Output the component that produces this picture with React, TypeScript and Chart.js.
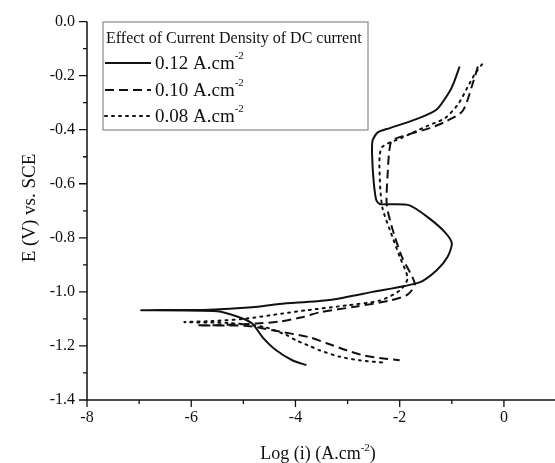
import React, { useEffect, useRef } from 'react';
import { Chart, registerables } from 'chart.js';

Chart.register(...registerables);

const xTicks = [-8, -6, -4, -2, 0];
const xMinorTicks = [-7, -5, -3, -1];
const yTicks = [0, -0.2, -0.4, -0.6, -0.8, -1.0, -1.2, -1.4];
const yMinorTicks = [-0.1, -0.3, -0.5, -0.7, -0.9, -1.1, -1.3];

const legendTitle = 'Effect of Current Density of DC current';
const seriesLabels = ['0.12 A.cm', '0.10 A.cm', '0.08 A.cm'];
const unitSup = '-2';
const xTitle = 'Log (i) (A.cm';
const yTitle = 'E (V) vs. SCE';

// 0.12 A.cm-2 (solid)
const logI012 = [
  -0.85, -0.95, -1.04, -1.29, -1.67, -2.19, -2.42, -2.52, -2.53, -2.5, -2.45, -2.38, -2.23,
  -1.81, -1.42, -1.13, -1.0, -1.08, -1.29, -1.62, -2.52, -3.35, -4.31, -4.83, -5.65, -6.96,
  -5.5, -5.08, -4.83, -4.63, -4.37, -4.06, -3.79,
];
const e012 = [
  -0.166, -0.22, -0.258, -0.325, -0.36, -0.394, -0.41, -0.44, -0.49, -0.59, -0.66, -0.675, -0.676,
  -0.68, -0.73, -0.78, -0.82, -0.87, -0.92, -0.965, -1.0, -1.03, -1.045, -1.057, -1.066, -1.068,
  -1.072, -1.094, -1.117, -1.168, -1.216, -1.253, -1.271,
];

// 0.10 A.cm-2 (dashed)
const logI010 = [
  -0.5, -0.6, -0.79, -1.1, -1.42, -1.87, -2.15, -2.2, -2.23, -2.25, -2.15, -1.96, -1.71,
  -1.85, -2.19, -2.83, -3.54, -3.87, -4.31, -4.75, -5.3, -5.88,
  -5.0, -4.75, -4.44, -3.73, -3.4, -3.02, -2.71, -2.38, -2.0,
];
const e010 = [
  -0.166, -0.23, -0.33, -0.368, -0.394, -0.42, -0.44, -0.48, -0.56, -0.675, -0.76, -0.87, -0.97,
  -1.01, -1.032, -1.054, -1.076, -1.094, -1.11, -1.117, -1.122, -1.124,
  -1.125, -1.13, -1.142, -1.168, -1.19, -1.216, -1.234, -1.245, -1.253,
];

// 0.08 A.cm-2 (dotted)
const logI008 = [
  -0.42, -0.56, -0.69, -0.88, -1.13, -1.48, -1.96, -2.35, -2.38, -2.33, -2.19, -2.0, -1.85,
  -2.0, -2.38, -3.02, -3.79, -4.25, -5.0, -5.6, -6.13,
  -5.3, -4.6, -4.17, -3.98, -3.73, -3.54, -3.15, -2.77, -2.3,
];
const e008 = [
  -0.158, -0.195, -0.24, -0.306, -0.357, -0.387, -0.43, -0.468, -0.59, -0.69, -0.77, -0.87, -0.95,
  -0.995, -1.032, -1.05, -1.068, -1.08, -1.1, -1.108, -1.112,
  -1.115, -1.13, -1.16, -1.18, -1.2, -1.216, -1.24, -1.253, -1.262,
];

const FONT = '"Liberation Serif", "Times New Roman", serif';
const INK = '#111';

const toPoints = (xs: number[], ys: number[]) => xs.map((x, i) => ({ x, y: ys[i] }));

const dashes: number[][] = [[], [9, 5], [2, 5]];

const overlayPlugin = {
  id: 'overlay',
  afterDraw(chart: any) {
    const ctx: CanvasRenderingContext2D = chart.ctx;
    const xs = chart.scales.x;
    const ys = chart.scales.y;
    const { left, right, top, bottom } = chart.chartArea;
    ctx.save();
    ctx.strokeStyle = INK;
    ctx.lineWidth = 1.5;
    ctx.setLineDash([]);
    // axes
    ctx.beginPath();
    ctx.moveTo(left, top);
    ctx.lineTo(left, bottom);
    ctx.lineTo(right, bottom);
    ctx.stroke();
    // y ticks
    ctx.lineWidth = 1.3;
    ctx.beginPath();
    yTicks.forEach((v) => {
      const p = ys.getPixelForValue(v);
      ctx.moveTo(left - 8, p);
      ctx.lineTo(left, p);
    });
    yMinorTicks.forEach((v) => {
      const p = ys.getPixelForValue(v);
      ctx.moveTo(left - 4, p);
      ctx.lineTo(left, p);
    });
    xTicks.forEach((v) => {
      const p = xs.getPixelForValue(v);
      ctx.moveTo(p, bottom);
      ctx.lineTo(p, bottom + 7);
    });
    xMinorTicks.forEach((v) => {
      const p = xs.getPixelForValue(v);
      ctx.moveTo(p, bottom);
      ctx.lineTo(p, bottom + 4);
    });
    ctx.stroke();

    ctx.fillStyle = INK;
    // x title with superscript
    ctx.font = `18px ${FONT}`;
    const wMain = ctx.measureText(xTitle).width;
    ctx.font = `11px ${FONT}`;
    const wSup = ctx.measureText(unitSup).width;
    ctx.font = `18px ${FONT}`;
    const wClose = ctx.measureText(')').width;
    const total = wMain + wSup + wClose;
    const cx = 318;
    let sx = cx - total / 2;
    const base = 459;
    ctx.textBaseline = 'alphabetic';
    ctx.textAlign = 'left';
    ctx.fillText(xTitle, sx, base);
    sx += wMain;
    ctx.font = `11px ${FONT}`;
    ctx.fillText(unitSup, sx, base - 8);
    sx += wSup;
    ctx.font = `18px ${FONT}`;
    ctx.fillText(')', sx, base);

    // y title
    ctx.save();
    ctx.translate(35, 208);
    ctx.rotate(-Math.PI / 2);
    ctx.font = `19px ${FONT}`;
    ctx.textAlign = 'center';
    ctx.fillText(yTitle, 0, 0);
    ctx.restore();

    // legend
    const bx = 103, by = 22, bw = 265, bh = 108;
    ctx.fillStyle = '#fff';
    ctx.fillRect(bx, by, bw, bh);
    ctx.strokeStyle = '#8a8a8a';
    ctx.lineWidth = 1.2;
    ctx.strokeRect(bx, by, bw, bh);
    ctx.fillStyle = INK;
    ctx.font = `16px ${FONT}`;
    ctx.textAlign = 'left';
    ctx.fillText(legendTitle, 106, 43);
    const rows = [63, 90, 116];
    seriesLabels.forEach((lab, i) => {
      const y = rows[i];
      ctx.strokeStyle = INK;
      ctx.lineWidth = 2;
      ctx.setLineDash(dashes[i]);
      ctx.lineCap = i === 2 ? 'round' : 'butt';
      ctx.beginPath();
      ctx.moveTo(105, y);
      ctx.lineTo(151, y);
      ctx.stroke();
      ctx.setLineDash([]);
      ctx.font = `19px ${FONT}`;
      ctx.fillText(lab, 155, y + 6);
      const w = ctx.measureText(lab).width;
      ctx.font = `11px ${FONT}`;
      ctx.fillText(unitSup, 155 + w, y - 4);
    });
    ctx.restore();
  },
};

export default function App() {
  const ref = useRef<HTMLCanvasElement | null>(null);
  useEffect(() => {
    if (!ref.current) return;
    const series = [
      { label: seriesLabels[0], data: toPoints(logI012, e012) },
      { label: seriesLabels[1], data: toPoints(logI010, e010) },
      { label: seriesLabels[2], data: toPoints(logI008, e008) },
    ];
    const chart = new Chart(ref.current, {
      type: 'scatter',
      data: {
        datasets: series.map((s, i) => ({
          label: s.label,
          data: s.data,
          showLine: true,
          borderColor: INK,
          backgroundColor: INK,
          borderWidth: 2,
          borderDash: dashes[i],
          borderCapStyle: i === 2 ? 'round' : 'butt',
          pointRadius: 0,
          pointHoverRadius: 0,
          tension: 0.25,
          fill: false,
        })),
      },
      plugins: [overlayPlugin],
      options: {
        animation: false,
        responsive: true,
        maintainAspectRatio: false,
        layout: { padding: { top: 20, right: 0, left: 0, bottom: 0 } },
        plugins: {
          legend: { display: false },
          tooltip: { enabled: false },
        },
        scales: {
          x: {
            type: 'linear',
            min: -8,
            max: 0.98,
            grid: { display: false, drawTicks: false },
            border: { display: false },
            afterBuildTicks: (scale: any) => {
              scale.ticks = xTicks.map((v) => ({ value: v }));
            },
            afterFit: (scale: any) => {
              scale.height = 63;
            },
            ticks: {
              padding: 8,
              color: INK,
              font: { family: FONT, size: 16 },
              maxRotation: 0,
              callback: (v: any) => String(v),
            },
          },
          y: {
            type: 'linear',
            min: -1.4,
            max: 0,
            grid: { display: false, drawTicks: false },
            border: { display: false },
            afterBuildTicks: (scale: any) => {
              scale.ticks = yTicks.map((v) => ({ value: v }));
            },
            afterFit: (scale: any) => {
              scale.width = 87;
            },
            ticks: {
              padding: 12,
              color: INK,
              font: { family: FONT, size: 16 },
              callback: (v: any) => Number(v).toFixed(1),
            },
          },
        },
      } as any,
    });
    return () => chart.destroy();
  }, []);
  return (
    <div style={{ position: 'absolute', left: 0, top: 0, width: 555, height: 463, background: '#fff' }}>
      <canvas ref={ref} />
    </div>
  );
}
